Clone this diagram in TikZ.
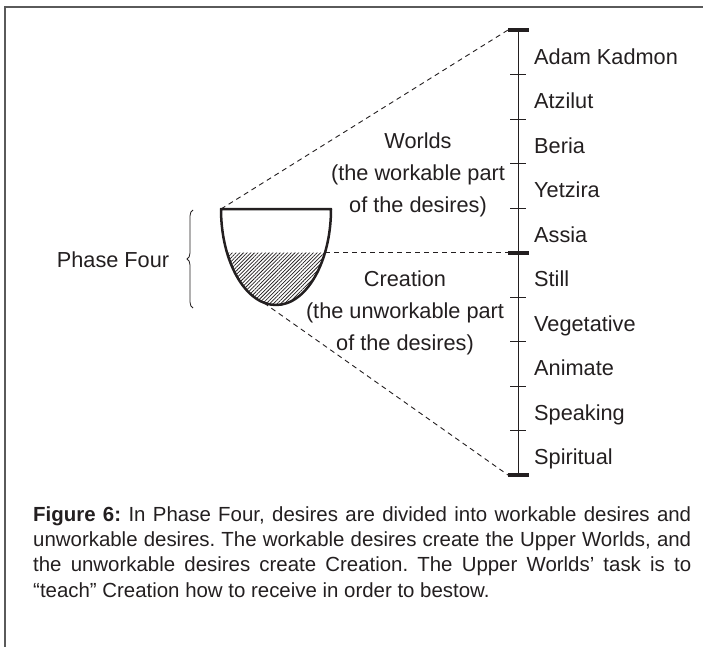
\documentclass[tikz,border=0pt]{standalone}
\usepackage{fontspec}
\setmainfont{Liberation Sans}
\usepackage{tikz}
\usetikzlibrary{patterns.meta,decorations.pathreplacing,positioning}
\definecolor{ink}{HTML}{231F20}
\definecolor{framegray}{HTML}{5A5A5A}
\tikzstyle{lbl} = [font=\fontsize{21.8}{32}\selectfont, text=ink, inner sep=0pt]
\tikzstyle{dashline} = [draw=ink, line width=0.9bp, dash pattern=on 5bp off 4bp]
\tikzstyle{endbar} = [draw=ink, line width=4bp]
\tikzstyle{tickmark} = [draw=ink, line width=0.9bp]
\tikzstyle{bowl} = [draw=ink, line width=2.5bp, line join=round]

\begin{document}
\begin{tikzpicture}[x=1bp,y=-1bp]
\useasboundingbox (0,0) rectangle (703,647);
\draw[framegray, line width=1.5bp] (5,647) -- (5,7) -- (703,7);

\coordinate (top) at (518,30);
\coordinate (mid) at (518,252.5);
\coordinate (bot) at (518,475);
\coordinate (bowlL) at (221,209);
\coordinate (waterR) at (325.2,252.5);
\coordinate (bowlB) at (264,303);

\fill[pattern={Lines[angle=45,distance=2.6bp,line width=0.75bp]}, pattern color=ink] (226.8,252.5) arc[start angle=153.4,end angle=26.6,x radius=55,y radius=96] -- cycle;
\draw[bowl] (bowlL) arc[start angle=180,end angle=0,x radius=55,y radius=96] -- cycle;

\draw[dashline] (bowlL) -- ([xshift=-10bp]top);
\draw[dashline] (waterR) -- ([xshift=-10bp]mid);
\draw[dashline] (bowlB) -- ([xshift=-10bp]bot);

\draw[ink, line width=1bp] (top) -- (bot);
\foreach \k in {1,...,9}
  \draw[tickmark] (510,30+44.5*\k) -- (526,30+44.5*\k);
\foreach \p in {top,mid,bot}
  \draw[endbar] ([xshift=-10bp]\p) -- ([xshift=11bp]\p);

\foreach \name [count=\i] in {Adam Kadmon,Atzilut,Beria,Yetzira,Assia,Still,Vegetative,Animate,Speaking,Spiritual}
  \node[lbl, anchor=base west] (w\i) at (534,30+44.5*\i-10.25) {\name};

\node[lbl, align=center] (worlds) at (418,174.5) {Worlds\\(the workable part\\of the desires)};
\node[lbl, align=center] (creation) at (405,312.5) {Creation\\(the unworkable part\\of the desires)};

\node[lbl] (phase) at (113,260) {Phase Four};
\draw[ink, line width=0.8bp, decorate, decoration={brace,amplitude=6bp}] (193,308) -- (193,210);

\node[anchor=north west, text width=658bp, align=justify, inner sep=0pt, text=ink, font=\fontsize{20.5}{25.5}\selectfont\frenchspacing] (caption) at (33,506)
  {\textbf{Figure 6:} In Phase Four, desires are divided into workable desires and\linebreak
   unworkable desires. The workable desires create the Upper Worlds, and\linebreak
   the unworkable desires create Creation. The Upper Worlds’ task is to\linebreak
   “teach” Creation how to receive in order to bestow.};
\end{tikzpicture}
\end{document}
